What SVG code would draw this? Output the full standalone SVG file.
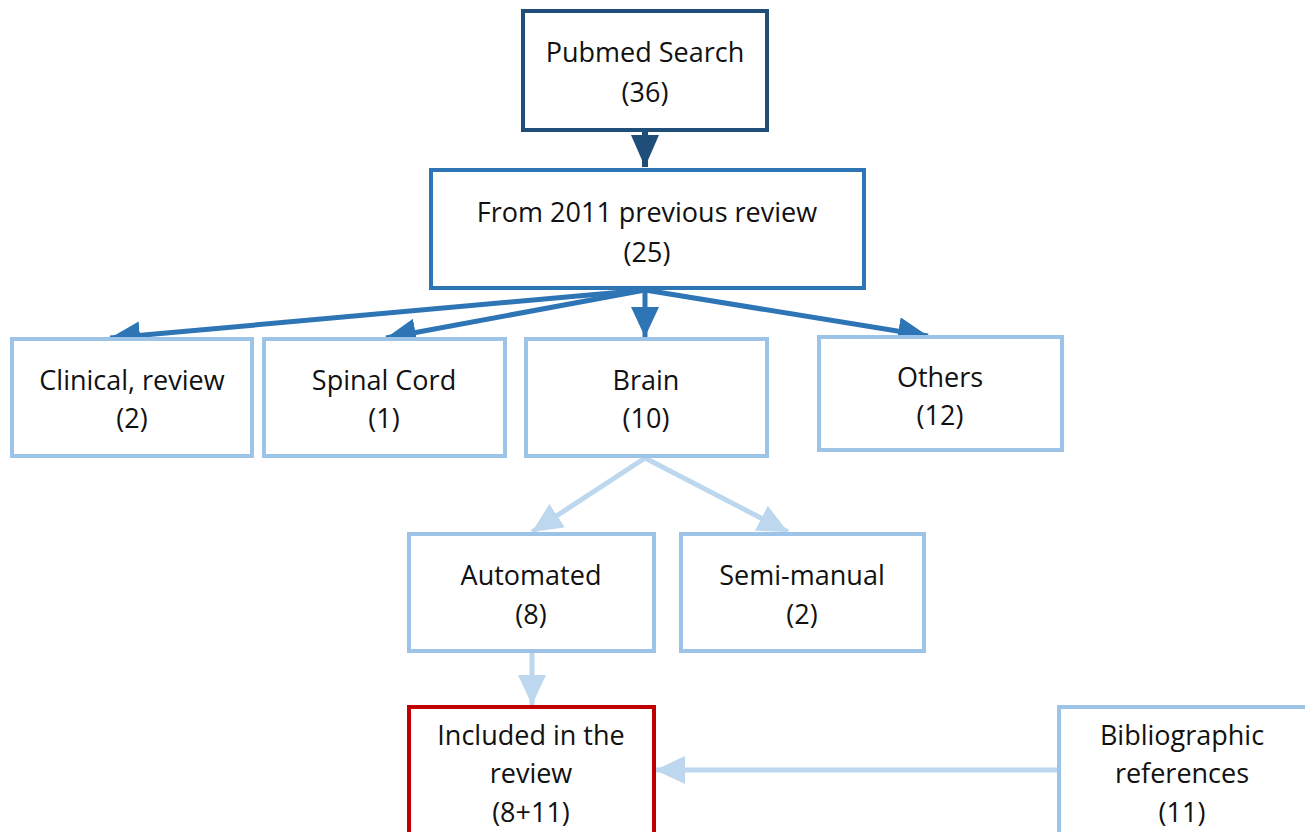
<svg xmlns="http://www.w3.org/2000/svg" width="1305" height="832" viewBox="0 0 1305 832">
<style>
text{font-family:"Open Sans","Noto Sans","Liberation Sans",sans-serif;font-size:27px;fill:#111;text-anchor:middle}
.dark{fill:#fff;stroke:#1f4e79;stroke-width:4}
.mid{fill:#fff;stroke:#2e75b6;stroke-width:4}
.light{fill:#fff;stroke:#9dc3e6;stroke-width:4}
.red{fill:#fff;stroke:#c00000;stroke-width:4}
.c1{stroke:#1f4e79;stroke-width:6;fill:none}
.c2{stroke:#2e75b6;stroke-width:5;fill:none}
.c3{stroke:#bdd7ee;stroke-width:5;fill:none}
</style>
<defs>
<marker id="h1" markerUnits="userSpaceOnUse" markerWidth="34" markerHeight="28" refX="32" refY="14" orient="auto"><path d="M0,0 L32,14 L0,28 z" fill="#1f4e79"/></marker>
<marker id="h2" markerUnits="userSpaceOnUse" markerWidth="32" markerHeight="28" refX="30" refY="14" orient="auto"><path d="M0,0 L30,14 L0,28 z" fill="#2e75b6"/></marker>
<marker id="h3" markerUnits="userSpaceOnUse" markerWidth="32" markerHeight="28" refX="30" refY="14" orient="auto"><path d="M0,0 L30,14 L0,28 z" fill="#bdd7ee"/></marker>
</defs>
<rect width="1305" height="832" fill="#fff"/>
<g id="connectors">
<line class="c1" x1="645" y1="131" x2="645" y2="167" marker-end="url(#h1)"/>
<line class="c2" x1="645" y1="290" x2="110" y2="338" marker-end="url(#h2)"/>
<line class="c2" x1="645" y1="290" x2="386" y2="338" marker-end="url(#h2)"/>
<line class="c2" x1="645" y1="290" x2="645" y2="337" marker-end="url(#h2)"/>
<line class="c2" x1="645" y1="290" x2="928" y2="336" marker-end="url(#h2)"/>
<line class="c3" x1="645" y1="458" x2="532" y2="532" marker-end="url(#h3)"/>
<line class="c3" x1="645" y1="458" x2="788" y2="532" marker-end="url(#h3)"/>
<line class="c3" x1="532" y1="653" x2="532" y2="705" marker-end="url(#h3)"/>
<line class="c3" x1="1057" y1="770" x2="655" y2="770" marker-end="url(#h3)"/>
</g>
<g id="pubmed"><rect class="dark" x="523" y="11" width="244" height="119"/><text x="645" y="62">Pubmed Search</text><text x="645" y="102">(36)</text></g>
<g id="from2011"><rect class="mid" x="431" y="170" width="433" height="118"/><text x="647" y="222">From 2011 previous review</text><text x="647" y="262">(25)</text></g>
<g id="clinical"><rect class="light" x="12" y="339" width="240" height="117"/><text x="132" y="390">Clinical, review</text><text x="132" y="428">(2)</text></g>
<g id="spinal"><rect class="light" x="264" y="339" width="241" height="117"/><text x="384" y="390">Spinal Cord</text><text x="384" y="428">(1)</text></g>
<g id="brain"><rect class="light" x="526" y="339" width="241" height="117"/><text x="646" y="390">Brain</text><text x="646" y="428">(10)</text></g>
<g id="others"><rect class="light" x="819" y="337" width="243" height="113"/><text x="940" y="387">Others</text><text x="940" y="425">(12)</text></g>
<g id="automated"><rect class="light" x="409" y="534" width="245" height="117"/><text x="531" y="585">Automated</text><text x="531" y="624">(8)</text></g>
<g id="semimanual"><rect class="light" x="681" y="534" width="243" height="117"/><text x="802" y="585">Semi-manual</text><text x="802" y="624">(2)</text></g>
<g id="included"><rect class="red" x="409" y="707" width="245" height="130"/><text x="531" y="745">Included in the</text><text x="531" y="783">review</text><text x="531" y="822">(8+11)</text></g>
<g id="bibliographic"><rect class="light" x="1059" y="707" width="250" height="130"/><text x="1182" y="745">Bibliographic</text><text x="1182" y="783">references</text><text x="1182" y="822">(11)</text></g>
</svg>
